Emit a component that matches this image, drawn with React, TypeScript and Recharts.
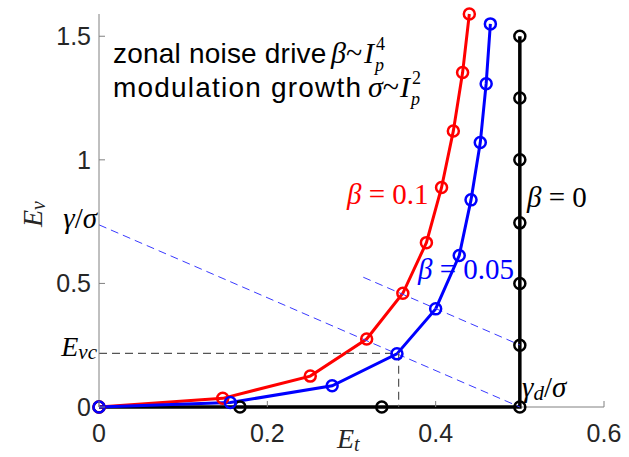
import { LineChart, Line, XAxis, YAxis, CartesianGrid } from 'recharts';

// E_t (x) / E_v (y) trajectories
const blackPts = [
    { x: 0, y: 0 }, { x: 0.1675, y: 0 }, { x: 0.336, y: 0 }, { x: 0.5, y: 0 },
    { x: 0.5, y: 0.25 }, { x: 0.5, y: 0.5 }, { x: 0.5, y: 0.745 }, { x: 0.5, y: 1.0 },
    { x: 0.5, y: 1.25 }, { x: 0.5, y: 1.5 },
];
const redPts = [
    { x: 0, y: 0 }, { x: 0.147, y: 0.035 }, { x: 0.251, y: 0.125 }, { x: 0.318, y: 0.275 },
    { x: 0.361, y: 0.46 }, { x: 0.389, y: 0.665 }, { x: 0.407, y: 0.888 }, { x: 0.421, y: 1.117 },
    { x: 0.432, y: 1.353 }, { x: 0.44, y: 1.59 },
];
const bluePts = [
    { x: 0, y: 0 }, { x: 0.156, y: 0.018 }, { x: 0.277, y: 0.086 }, { x: 0.354, y: 0.215 },
    { x: 0.4, y: 0.397 }, { x: 0.428, y: 0.613 }, { x: 0.442, y: 0.838 }, { x: 0.453, y: 1.07 },
    { x: 0.46, y: 1.308 }, { x: 0.465, y: 1.55 },
];
const dashGamma = [{ x: 0, y: 0.737 }, { x: 0.5, y: 0 }];
const dashShift = [{ x: 0.314, y: 0.525 }, { x: 0.5, y: 0.251 }];
const dashEvc = [{ x: 0, y: 0.217 }, { x: 0.356, y: 0.217 }, { x: 0.356, y: 0 }];

const xTicks = [0, 0.2, 0.4, 0.6];
const yTicks = [0, 0.5, 1, 1.5];

const SANS = '"Liberation Sans", Arial, sans-serif';
const SERIF = '"Liberation Serif", "DejaVu Serif", serif';
const BOX = '#808080';
const TXT = '#262626';
const TL = 6;

const fmt = (v: number) => String(v);

const LeftTick = ({ x, y, payload }: any) => (
    <g>
        <line x1={x} x2={x + TL} y1={y} y2={y} stroke={BOX} />
        <text x={x - 8} y={y} dy={9} textAnchor="end" fontSize={25} fontFamily={SANS} fill={TXT}>
            {fmt(payload.value)}
        </text>
    </g>
);
const BottomTick = ({ x, y, payload }: any) => (
    <g>
        <line x1={x} x2={x} y1={y} y2={y - TL} stroke={BOX} />
        <text x={x} y={y + 35} textAnchor="middle" fontSize={25} fontFamily={SANS} fill={TXT}>
            {fmt(payload.value)}
        </text>
    </g>
);
const TopTick = ({ x, y }: any) => <line x1={x} x2={x} y1={y} y2={y + TL} stroke={BOX} />;
const RightTick = ({ x, y }: any) => <line x1={x} x2={x - TL} y1={y} y2={y} stroke={BOX} />;

// I_p with stacked sub/superscript
const Ip = ({ x, y, sup }: { x: number; y: number; sup: string }) => (
    <g fontFamily={SERIF} fill="#000">
        <text x={x} y={y} fontSize={30} fontStyle="italic">I</text>
        <text x={x + 11} y={y + 8} fontSize={18} fontStyle="italic">p</text>
        <text x={x + 12} y={y - 13} fontSize={18}>{sup}</text>
    </g>
);

export default function App() {
    const dot = (c: string) => ({ r: 5.5, stroke: c, strokeWidth: 2.5, fill: 'none' });
    return (
        <div style={{ position: 'absolute', left: 0, top: 0, width: 629, height: 457, background: '#fff' }}>
            <LineChart width={629} height={457} margin={{ top: 14, right: 25, bottom: 0, left: 39 }}>
                {/* bottom box edge drawn as grid so it stays under the black curve */}
                <CartesianGrid xAxisId="b" yAxisId="l" vertical={false} horizontalValues={[0]} stroke={BOX} />
                <XAxis xAxisId="b" dataKey="x" type="number" domain={[0, 0.6]} ticks={xTicks}
                    height={50} axisLine={false} tickSize={0} tickMargin={0} tick={<BottomTick />} />
                <XAxis xAxisId="t" orientation="top" dataKey="x" type="number" domain={[0, 0.6]} ticks={xTicks}
                    height={0} stroke={BOX} tickSize={0} tickMargin={0} tick={<TopTick />} />
                <YAxis yAxisId="l" type="number" domain={[0, 1.59]} ticks={yTicks}
                    width={60} stroke={BOX} tickSize={0} tickMargin={0} tick={<LeftTick />} />
                <YAxis yAxisId="r" orientation="right" type="number" domain={[0, 1.59]} ticks={yTicks}
                    width={0} stroke={BOX} tickSize={0} tickMargin={0} tick={<RightTick />} />

                <Line xAxisId="b" yAxisId="l" data={blackPts} dataKey="y" stroke="#000" strokeWidth={3.5}
                    dot={dot('#000')} isAnimationActive={false} />
                <Line xAxisId="b" yAxisId="l" data={redPts} dataKey="y" stroke="#ff0000" strokeWidth={3}
                    dot={dot('#ff0000')} isAnimationActive={false} />
                <Line xAxisId="b" yAxisId="l" data={bluePts} dataKey="y" stroke="#0000ff" strokeWidth={3}
                    dot={dot('#0000ff')} isAnimationActive={false} />
                <Line xAxisId="b" yAxisId="l" data={dashGamma} dataKey="y" stroke="#3a3aff" strokeWidth={1}
                    strokeDasharray="8 5" dot={false} isAnimationActive={false} />
                <Line xAxisId="b" yAxisId="l" data={dashShift} dataKey="y" stroke="#3a3aff" strokeWidth={1}
                    strokeDasharray="8 5" dot={false} isAnimationActive={false} />
                <Line xAxisId="b" yAxisId="l" data={dashEvc} dataKey="y" stroke="#555" strokeWidth={1.2}
                    strokeDasharray="8 5" dot={false} isAnimationActive={false} />
            </LineChart>

            <svg width={629} height={457} style={{ position: 'absolute', left: 0, top: 0, pointerEvents: 'none' }}>
                <text x={113} y={63} fontSize={28} letterSpacing={0.2} fontFamily={SANS} fill="#000">
                    zonal noise drive
                </text>
                <text x={331} y={63} fontSize={30} fontFamily={SERIF} fill="#000">
                    <tspan fontStyle="italic">β</tspan>~
                </text>
                <Ip x={364} y={63} sup="4" />
                <text x={113} y={97} fontSize={28} letterSpacing={1.2} fontFamily={SANS} fill="#000">
                    modulation growth
                </text>
                <text x={368} y={97} fontSize={30} fontFamily={SERIF} fill="#000">
                    <tspan fontStyle="italic">σ</tspan>~
                </text>
                <Ip x={400} y={97} sup="2" />

                <text x={347} y={204} fontSize={29} fontFamily={SERIF} fill="#ff0000">
                    <tspan fontStyle="italic">β</tspan> = 0.1
                </text>
                <text x={527} y={207} fontSize={29} fontFamily={SERIF} fill="#000">
                    <tspan fontStyle="italic">β</tspan> = 0
                </text>
                <text x={418} y={279} fontSize={29} fontFamily={SERIF} fill="#0000ff">
                    <tspan fontStyle="italic">β</tspan> = 0.05
                </text>
                <text x={522} y={397} fontSize={29} fontFamily={SERIF} fill="#000">
                    <tspan fontStyle="italic">γ</tspan>
                    <tspan fontStyle="italic" fontSize={21} dy={3}>d</tspan>
                    <tspan dy={-3}>/</tspan>
                    <tspan fontStyle="italic">σ</tspan>
                </text>
                <text x={97} y={228} textAnchor="end" fontSize={29} fontFamily={SERIF} fill="#000">
                    <tspan fontStyle="italic">γ</tspan>/<tspan fontStyle="italic">σ</tspan>
                </text>
                <text x={97} y={356} textAnchor="end" fontSize={28} fontFamily={SERIF} fill="#000">
                    <tspan fontStyle="italic">E</tspan>
                    <tspan fontStyle="italic" fontSize={21} dy={3}>vc</tspan>
                </text>
                <text x={337} y={448} fontSize={28} fontFamily={SERIF} fill={TXT}>
                    <tspan fontStyle="italic">E</tspan>
                    <tspan fontStyle="italic" fontSize={20} dy={3}>t</tspan>
                </text>
                <text transform="translate(42, 227) rotate(-90)" fontSize={28} fontFamily={SERIF} fill={TXT}>
                    <tspan fontStyle="italic">E</tspan>
                    <tspan fontStyle="italic" fontSize={20} dy={3}>v</tspan>
                </text>
            </svg>
        </div>
    );
}
